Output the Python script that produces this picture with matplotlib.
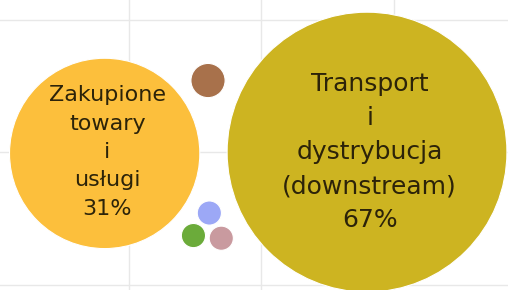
import numpy as np
import matplotlib.pyplot as plt
from matplotlib.patches import Circle

# data
labels = ["Transport\ni\ndystrybucja\n(downstream)\n67%",
          "Zakupione\ntowary\ni\nusługi\n31%",
          "", "", "", ""]
values = [67, 31, 1.0, 0.5, 0.5, 0.5]
colors = ["#CDB421", "#FCBF3C", "#A8714B", "#9CA8F6", "#6BAB3A", "#C99A9F"]
# bubble centres (packed layout, grid units)
bubble_x = [0.80, -1.18, -0.40, -0.39, -0.51, -0.30]
bubble_y = [0.00, -0.01, 0.54, -0.46, -0.63, -0.65]
font_sizes = [18, 16, 0, 0, 0, 0]
line_sp = [1.53, 1.52, 0, 0, 0, 0]

scale = 0.129  # radius per sqrt(value)

fig = plt.figure(figsize=(5.08, 2.90), dpi=100)
ax = fig.add_axes([0, 0, 1, 1])
ax.set_xlim(-1.97, 1.864)
ax.set_ylim(-1.04, 1.147)
ax.set_aspect('equal')

ax.set_xticks([-1, 0, 1])
ax.set_yticks([-1, 0, 1])
ax.grid(True, color="#e8e8e8", linewidth=1)
ax.tick_params(length=0, labelbottom=False, labelleft=False)
for s in ax.spines.values():
    s.set_visible(False)
ax.set_axisbelow(True)

for lab, v, c, x, y, fs, ls in zip(labels, values, colors, bubble_x, bubble_y,
                                   font_sizes, line_sp):
    r = scale * np.sqrt(v)
    ax.add_patch(Circle((x, y), r, facecolor=c, edgecolor="white",
                        linewidth=0.8, zorder=3))
    if lab:
        ax.text(x + 0.02, 0, lab, ha="center", va="center", fontsize=fs,
                color="#2c2309", family="DejaVu Sans", linespacing=ls, zorder=4)

fig.savefig("out.png", dpi=100)
